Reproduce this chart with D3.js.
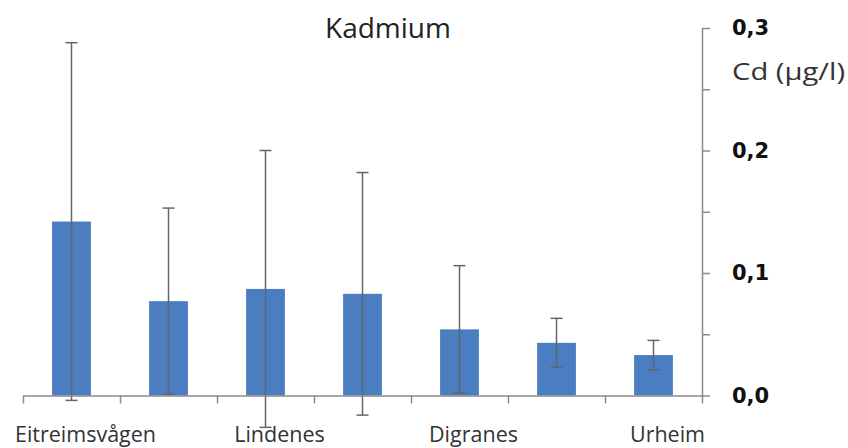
<!DOCTYPE html>
<html>
<head>
<meta charset="utf-8">
<script src="https://cdn.jsdelivr.net/npm/d3@7"></script>
<style>
  html, body { margin: 0; padding: 0; background: #fff; }
  svg { display: block; }
</style>
</head>
<body>
<svg id="chart" width="848" height="448"></svg>
<script>
// ---- data ----
const categories = ["Eitreimsvågen", "", "Lindenes", "", "Digranes", "", "Urheim"];
const means = [0.142, 0.077, 0.087, 0.083, 0.054, 0.043, 0.033];
const errors = [0.146, 0.076, 0.113, 0.099, 0.052, 0.020, 0.012];
const yTicks = [0, 0.05, 0.1, 0.15, 0.2, 0.25, 0.3];
const yTickLabels = ["0,0", "", "0,1", "", "0,2", "", "0,3"];
const title = "Kadmium";
const yTitle = "Cd (µg/l)";

(function () {
// ---- layout ----
const svg = d3.select("#chart");
const plotLeft = 23, plotRight = 702, plotTop = 28, plotBottom = 395.5;
const idx = d3.range(categories.length);

const x = d3.scaleBand().domain(idx).range([plotLeft, plotRight]).paddingInner(0.6).paddingOuter(0.3);
const xEdges = d3.scaleLinear().domain([0, categories.length]).range([plotLeft, plotRight]);
const y = d3.scaleLinear().domain([0, 0.3]).range([plotBottom, plotTop]);

const barColor = "#4a7ec0";
const errColor = "#62666e";
const axisColor = "#8a8a8a";

// bars
svg.append("g").selectAll("rect").data(idx).join("rect")
  .attr("x", i => x(i))
  .attr("width", x.bandwidth())
  .attr("y", i => y(means[i]))
  .attr("height", i => y(0) - y(means[i]))
  .attr("fill", barColor);

// error bars
const eg = svg.append("g").attr("stroke", errColor).attr("stroke-width", 1.5).attr("fill", "none");
const cx = i => x(i) + x.bandwidth() / 2;
const capW = 6;
eg.selectAll("line.v").data(idx).join("line").attr("class", "v")
  .attr("x1", cx).attr("x2", cx)
  .attr("y1", i => y(means[i] + errors[i]))
  .attr("y2", i => y(means[i] - errors[i]));
eg.selectAll("line.t").data(idx).join("line").attr("class", "t")
  .attr("x1", i => cx(i) - capW).attr("x2", i => cx(i) + capW)
  .attr("y1", i => y(means[i] + errors[i])).attr("y2", i => y(means[i] + errors[i]));
eg.selectAll("line.b").data(idx).join("line").attr("class", "b")
  .attr("x1", i => cx(i) - capW).attr("x2", i => cx(i) + capW)
  .attr("y1", i => y(means[i] - errors[i])).attr("y2", i => y(means[i] - errors[i]));

// x axis (category boundary ticks)
const xAxis = svg.append("g").attr("transform", `translate(0,${y(0)})`)
  .call(d3.axisBottom(xEdges).tickValues(d3.range(categories.length + 1)).tickFormat("").tickSize(8).tickSizeOuter(0));
xAxis.selectAll("path, line").attr("stroke", axisColor).attr("stroke-width", 1.5);

// category labels
svg.append("g").selectAll("text").data(idx.filter(i => categories[i] !== "")).join("text")
  .attr("x", i => cx(i) + 14)
  .attr("y", 442)
  .attr("text-anchor", "middle")
  .attr("font-family", "'Open Sans', sans-serif")
  .attr("font-size", 21.5)
  .attr("fill", "#333")
  .text(i => categories[i]);

// y axis on the right
const yAxis = svg.append("g").attr("transform", `translate(${plotRight},0)`)
  .call(d3.axisRight(y).tickValues(yTicks).tickSize(8).tickSizeOuter(0)
    .tickFormat((d, i) => yTickLabels[i]).tickPadding(22));
yAxis.selectAll("path, line").attr("stroke", axisColor).attr("stroke-width", 1.5);
yAxis.selectAll("text")
  .attr("font-family", "'DejaVu Sans', sans-serif")
  .attr("font-weight", "bold")
  .attr("font-size", 21)
  .attr("fill", "#111");

// axis title
svg.append("text")
  .attr("x", plotRight + 30).attr("y", 80)
  .attr("font-family", "'Open Sans', sans-serif")
  .attr("font-size", 24)
  .attr("fill", "#333")
  .attr("textLength", 113)
  .attr("lengthAdjust", "spacingAndGlyphs")
  .text(yTitle);

// chart title
svg.append("text")
  .attr("x", 388).attr("y", 38)
  .attr("text-anchor", "middle")
  .attr("font-family", "'Open Sans', sans-serif")
  .attr("font-size", 28)
  .attr("fill", "#222")
  .text(title);
})();
</script>
</body>
</html>
